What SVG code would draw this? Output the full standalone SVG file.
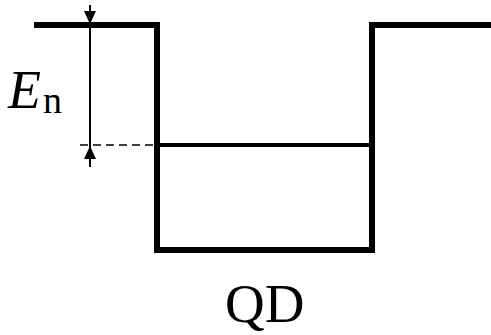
<svg xmlns="http://www.w3.org/2000/svg" width="491" height="335" viewBox="0 0 491 335">
<style>
.wall{fill:none;stroke:#000;stroke-width:6;stroke-linejoin:miter}
.lvl{stroke:#000;stroke-width:4}
.dim{stroke:#000;stroke-width:2}
.dash{stroke:#000;stroke-width:1.5;stroke-dasharray:8 5}
.t{font-family:"Liberation Serif",serif;fill:#000}
</style>
<g id="well">
<path class="wall" d="M34,25 H157 V250 H372 V25 H491"/>
</g>
<g id="level">
<line class="lvl" x1="157" y1="145" x2="372" y2="145"/>
</g>
<g id="connectors">
<line class="dash" x1="80" y1="145" x2="155" y2="145"/>
<line class="dim" x1="90" y1="5" x2="90" y2="167"/>
<path d="M84,11 L96,11 L90,24 Z" fill="#000"/>
<path d="M84,159 L96,159 L90,146 Z" fill="#000"/>
</g>
<g id="label-En">
<text class="t" x="8" y="108" font-size="54" font-style="italic">E</text>
<text class="t" x="43" y="113" font-size="38">n</text>
</g>
<g id="label-QD">
<text class="t" x="225" y="322" font-size="55">QD</text>
</g>
</svg>
